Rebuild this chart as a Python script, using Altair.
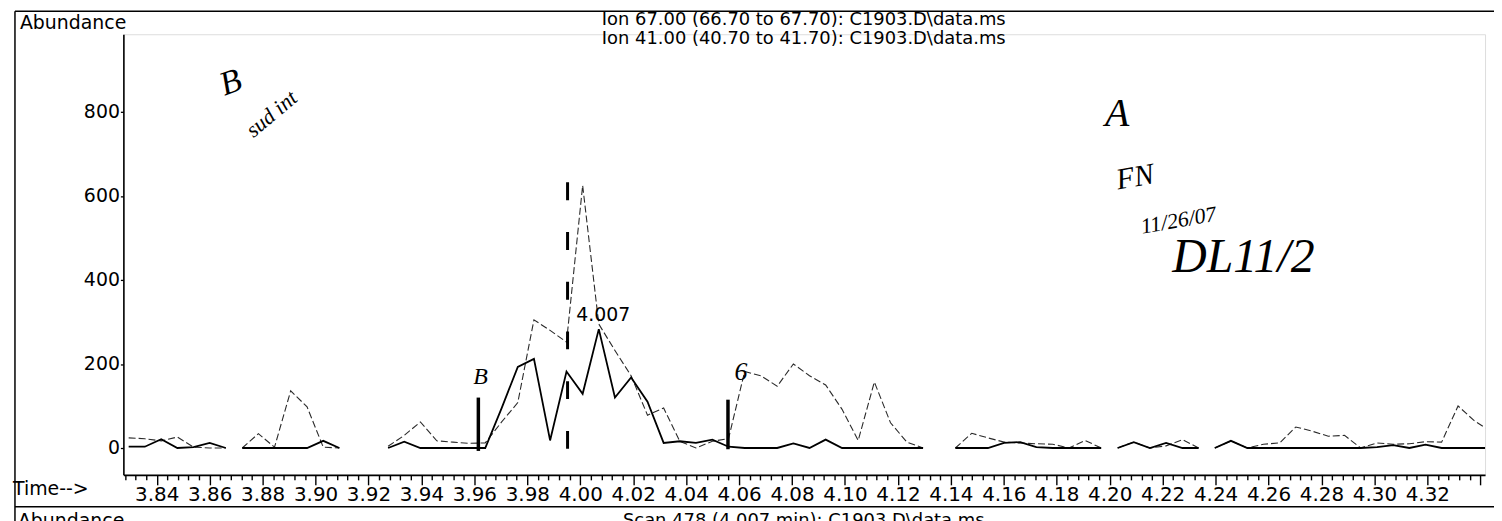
import altair as alt
import pandas as pd

# ---------------- data ----------------
times = [3.8294, 3.8355, 3.8417, 3.8478, 3.8539, 3.8600, 3.8661, 3.8723, 3.8784, 3.8845,
         3.8906, 3.8968, 3.9029, 3.9090, 3.9151, 3.9213, 3.9274, 3.9335, 3.9396, 3.9458,
         3.9519, 3.9580, 3.9641, 3.9703, 3.9764, 3.9825, 3.9886, 3.9948, 4.0009, 4.0070,
         4.0131, 4.0192, 4.0254, 4.0315, 4.0376, 4.0437, 4.0499, 4.0560, 4.0621, 4.0682,
         4.0744, 4.0805, 4.0866, 4.0927, 4.0989, 4.1050, 4.1111, 4.1172, 4.1234, 4.1295,
         4.1356, 4.1417, 4.1479, 4.1540, 4.1601, 4.1662, 4.1723, 4.1785, 4.1846, 4.1907,
         4.1968, 4.2030, 4.2091, 4.2152, 4.2213, 4.2275, 4.2336, 4.2397, 4.2458, 4.2520,
         4.2581, 4.2642, 4.2703, 4.2765, 4.2826, 4.2887, 4.2948, 4.3010, 4.3071, 4.3132,
         4.3193, 4.3254, 4.3316, 4.3377, 4.3438]

ion67 = [3, 3, 21, 0, 2, 12, 0, 0, 0, 0,
         0, 0, 17, 0, None, None, 0, 15, 0, 0,
         0, 0, 0, 95, 193, 212, 18, 182, 129, 283,
         120, 168, 110, 12, 16, 12, 20, 3, 0, 0,
         0, 11, 0, 20, 0, 0, 0, 0, 0, 0,
         None, 0, 0, 0, 12, 14, 2, 0, 0, 0,
         0, 0, 14, 0, 12, 0, 0, 0, 17, 0,
         0, 0, 0, 0, 0, 0, 0, 2, 7, 0,
         8, 0, 0, 0, 0]

ion41 = [24, 22, 17, 26, 2, 0, 0, 0, 34, 2,
         136, 98, 2, 0, None, None, 4, 30, 62, 17,
         14, 11, 12, 62, 108, 305, 280, 252, 625, 295,
         232, 172, 78, 95, 16, 0, 16, 22, 182, 172,
         147, 200, 172, 150, 92, 18, 157, 60, 14, 0,
         None, 0, 35, 24, 14, 12, 10, 9, 0, 18,
         0, 0, 14, 0, 5, 20, 0, 0, 17, 0,
         9, 12, 50, 40, 28, 30, 0, 12, 9, 10,
         15, 14, 100, 65, 40]

# times after which the printed trace has a break
gap_after = [3.8661, 3.9090, 4.1295, 4.1968, 4.2336]

y_ticks = [0, 200, 400, 600, 800]
x_ticks = [round(3.828 + 0.004 * i, 3) for i in range(129)]

title_67 = "Ion  67.00 (66.70 to 67.70): C1903.D\\data.ms"
title_41 = "Ion  41.00 (40.70 to 41.70): C1903.D\\data.ms"
scan_text = "Scan 478 (4.007 min): C1903.D\\data.ms"
peak_label = "4.007"
peak_time = [4.0087]
peak_abund = [317]

marker_times = [3.9615, 4.0558]          # integration start/end marks
marker_low = [-7, -3]
marker_high = [120, 115]
rt_time = [3.9952]                        # dashed retention-time line
rt_low = [-2]
rt_high = [672]

hand_text = ["B", "sud int", "B", "6", "A", "FN", "11/26/07", "DL11/2"]
hand_time = [3.868, 3.8834, 3.9623, 4.0607, 4.2028, 4.2096, 4.226, 4.2505]
hand_abund = [869, 795, 168, 180, 795, 644, 542, 452]


def trace_frame(values):
    rows = []
    for t, v in zip(times, values):
        if v is None:
            continue
        seg = sum(1 for g in gap_after if t > g + 1e-6)
        rows.append({"time": t, "abundance": v, "seg": seg})
    return pd.DataFrame(rows)


df67 = trace_frame(ion67)
df41 = trace_frame(ion41)

# ---------------- scales & axes ----------------
FONT = "DejaVu Sans"
major_test = "abs(datum.value * 50 - round(datum.value * 50)) < 0.01"

xs = alt.Scale(domain=[3.8274, 4.3418], nice=False, zero=False)
ys = alt.Scale(domain=[-64, 985], nice=False, zero=False)

xaxis = alt.Axis(
    values=x_ticks,
    labelExpr=f"({major_test}) && datum.value < 4.33 ? format(datum.value, '.2f') : ''",
    tickSize={"condition": {"test": major_test, "value": 10}, "value": 5},
    labelFont=FONT, labelFontSize=20, labelColor="black",
    labelPadding=0, labelOverlap=False, labelFlush=False,
    tickColor="black", tickWidth=1.4, domainColor="black", domainWidth=1.6,
    grid=False, title=None,
)
yaxis = alt.Axis(
    values=y_ticks, format="d",
    labelFont=FONT, labelFontSize=19, labelColor="black", labelPadding=1,
    tickSize=3, tickColor="black", tickWidth=1.3,
    domainColor="black", domainWidth=1.6, grid=False, title=None,
)

X = alt.X("time:Q", scale=xs, axis=xaxis)
Y = alt.Y("abundance:Q", scale=ys, axis=yaxis)

# ---------------- traces ----------------
line67 = alt.Chart(df67).mark_line(color="black", strokeWidth=1.8, clip=True).encode(
    x=X, y=Y, detail="seg:N")
line41 = alt.Chart(df41).mark_line(color="#2a2a2a", strokeWidth=1.1,
                                   strokeDash=[7, 3], clip=True).encode(
    x=X, y=Y, detail="seg:N")

markers = alt.Chart(pd.DataFrame({"time": marker_times, "abundance": marker_low,
                                  "abundance2": marker_high})).mark_rule(
    color="black", strokeWidth=3.5).encode(x=X, y=Y, y2="abundance2:Q")
rt_line = alt.Chart(pd.DataFrame({"time": rt_time, "abundance": rt_low,
                                  "abundance2": rt_high})).mark_rule(
    color="black", strokeWidth=3, strokeDash=[18, 32]).encode(x=X, y=Y, y2="abundance2:Q")

peak_txt = alt.Chart(pd.DataFrame({"time": peak_time, "abundance": peak_abund,
                                   "label": [peak_label]})).mark_text(
    font=FONT, fontSize=19, color="black", align="center", baseline="middle").encode(
    x=X, y=Y, text="label:N")

# handwritten notes
hand_styles = [
    dict(fontSize=34, angle=340), dict(fontSize=22, angle=320), dict(fontSize=24, angle=0),
    dict(fontSize=26, angle=0), dict(fontSize=40, angle=0), dict(fontSize=30, angle=350),
    dict(fontSize=22, angle=350), dict(fontSize=48, angle=0),
]
hand_layers = []
for i, st in enumerate(hand_styles):
    d = pd.DataFrame({"time": [hand_time[i]], "abundance": [hand_abund[i]],
                      "label": [hand_text[i]]})
    hand_layers.append(alt.Chart(d).mark_text(
        font="Liberation Serif", fontStyle="italic", color="black",
        align="center", baseline="middle", **st).encode(x=X, y=Y, text="label:N"))

# ---------------- page decoration (printout frame & headers) ----------------
one = pd.DataFrame({"k": [0]})


def page_text(txt, x, y, size, align="left", baseline="middle"):
    return alt.Chart(one).mark_text(text=txt, font=FONT, fontSize=size, color="black",
                                    align=align, baseline=baseline).encode(
        x=alt.value(x), y=alt.value(y))


frame_top = alt.Chart(one).mark_rule(color="black", strokeWidth=1.5).encode(
    x=alt.value(-109), x2=alt.value(1390), y=alt.value(-23))
frame_left = alt.Chart(one).mark_rule(color="black", strokeWidth=1.5).encode(
    x=alt.value(-109), y=alt.value(-23), y2=alt.value(500))
frame_sep = alt.Chart(one).mark_rule(color="black", strokeWidth=1.5).encode(
    x=alt.value(-109), x2=alt.value(1390), y=alt.value(475))

texts = [
    page_text("Abundance", -104, -11, 19),
    page_text(title_67, 684, -14, 18, align="center"),
    page_text(title_41, 684, 5, 18, align="center"),
    page_text("Time-->", -111, 457, 19),
    page_text("Abundance", -106, 480, 19, baseline="top"),
    page_text(scan_text, 684, 480, 18, align="center", baseline="top"),
]

chart = alt.layer(
    line41, line67, rt_line, markers, peak_txt, *hand_layers,
    frame_top, frame_left, frame_sep, *texts,
).properties(
    width=1369, height=443,
    autosize=alt.AutoSizeParams(type="none"),
    padding={"left": 116, "top": 25, "right": 9, "bottom": 45},
).configure_view(stroke=None).configure(background="white")

chart.save("out.html", embed_options={"renderer": "svg", "actions": False})
